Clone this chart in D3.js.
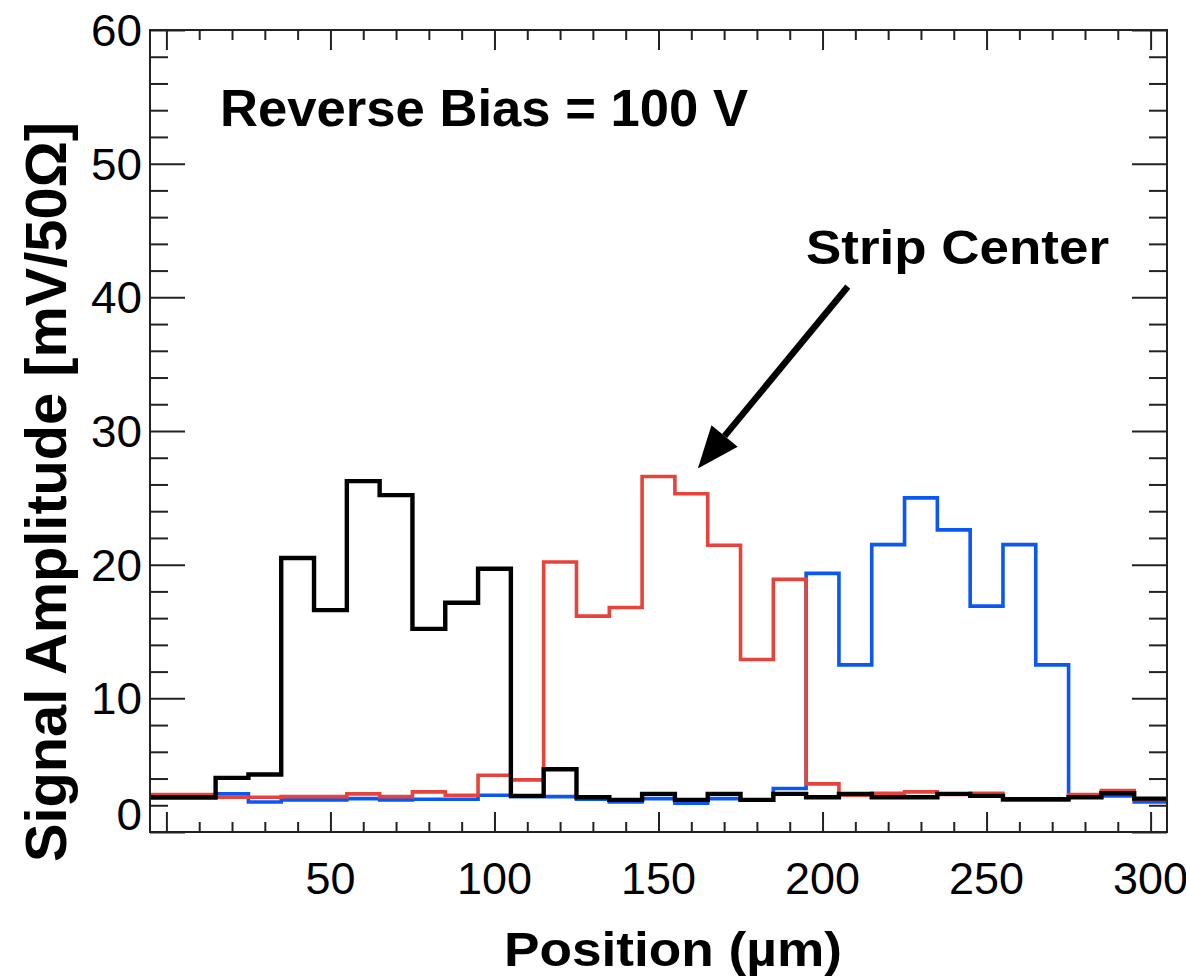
<!DOCTYPE html>
<html lang="en">
<head>
<meta charset="UTF-8">
<title>Signal Amplitude vs Position</title>
<script src="https://d3js.org/d3.v7.min.js"></script>
<style>
  body {
    margin: 0;
    background-color: #ffffff;
    font-family: "Liberation Sans", Arial, sans-serif;
  }
  .frame { fill: none; stroke: #222; stroke-width: 2; }
  .tick line { stroke: #222; stroke-width: 2; }
  .hist { fill: none; stroke-linejoin: miter; }
  .ticklabel { font-size: 44px; fill: #000; }
  .bold { font-weight: bold; fill: #000; }
</style>
</head>
<body>
<svg id="chart"></svg>

<script>
// bin centres (um), 10 um wide bins
var positions = [0, 10, 20, 30, 40, 50, 60, 70, 80, 90, 100, 110, 120, 130, 140, 150,
                 160, 170, 180, 190, 200, 210, 220, 230, 240, 250, 260, 270, 280, 290, 300];

// signal amplitude (mV/50 Ohm) per bin, one array per strip
var blueStrip  = [2.55, 2.55, 2.85, 2.25, 2.4, 2.4, 2.5, 2.4, 2.45, 2.45, 2.75, 2.65, 2.65, 2.45, 2.25, 2.5,
                  2.15, 2.5, 2.4, 3.25, 19.35, 12.5, 21.5, 25.0, 22.6, 16.9, 21.5, 12.5, 2.6, 2.7, 2.25];
var redStrip   = [2.8, 2.8, 2.6, 2.6, 2.65, 2.65, 2.85, 2.65, 3.0, 2.75, 4.25, 3.9, 20.2, 16.15, 16.8, 26.6,
                  25.3, 21.45, 12.9, 18.9, 3.6, 2.75, 2.9, 3.0, 2.8, 2.9, 2.4, 2.4, 2.8, 3.1, 2.45];
var blackStrip = [2.6, 2.6, 4.05, 4.3, 20.5, 16.6, 26.25, 25.2, 15.2, 17.15, 19.7, 2.7, 4.7, 2.6, 2.4, 2.85,
                  2.4, 2.85, 2.4, 2.85, 2.6, 2.85, 2.6, 2.6, 2.85, 2.7, 2.45, 2.45, 2.6, 2.9, 2.5];

// axis ticks
var xMajor = [0, 50, 100, 150, 200, 250, 300];
var xLabels = [50, 100, 150, 200, 250, 300];
var yMajor = [0, 10, 20, 30, 40, 50, 60];

// arrow pointing at the strip centre, in data units [from, to]
var arrowFrom = [207.7, 40.8];
var arrowTo = [162, 27.2];

var binWidth = 10;
var width = 1186, height = 980;

var svg = d3.select("#chart")
  .attr("width", width)
  .attr("height", height);

var x = d3.scaleLinear().domain([-5, 305]).range([150, 1167]);
var y = d3.scaleLinear().domain([0, 60]).range([832, 30]);

var xMinor = d3.range(0, 301, 10).filter(d => d % 50 !== 0);
var yMinor = d3.range(0, 61, 2).filter(d => d % 10 !== 0);

// ticks on all four sides, pointing inwards
function ticks(axis, vals, size, transform) {
  svg.append("g")
    .attr("transform", transform)
    .call(axis.tickValues(vals).tickSize(size).tickFormat(""))
    .call(g => g.select(".domain").remove());
}
ticks(d3.axisBottom(x), xMajor, -20, "translate(0,832)");
ticks(d3.axisBottom(x), xMinor, -10, "translate(0,832)");
ticks(d3.axisTop(x), xMajor, -20, "translate(0,30)");
ticks(d3.axisTop(x), xMinor, -10, "translate(0,30)");
ticks(d3.axisLeft(y), yMajor, -35, "translate(150,0)");
ticks(d3.axisLeft(y), yMinor, -18, "translate(150,0)");
ticks(d3.axisRight(y), yMajor, -35, "translate(1167,0)");
ticks(d3.axisRight(y), yMinor, -18, "translate(1167,0)");

// histograms as step lines
var step = d3.line()
  .x(d => x(d[0]))
  .y(d => y(d[1]))
  .curve(d3.curveStepAfter);

function histPoints(vals) {
  var pts = positions.map((p, i) => [p - binWidth / 2, vals[i]]);
  pts.push([positions[positions.length - 1] + binWidth / 2, vals[vals.length - 1]]);
  return pts;
}

var series = [
  { vals: blueStrip, color: "#0b57f5", w: 3.6 },
  { vals: redStrip, color: "#e8433a", w: 3.6 },
  { vals: blackStrip, color: "#000000", w: 4.4 }
];

svg.selectAll("path.hist")
  .data(series)
  .enter()
  .append("path")
  .attr("class", "hist")
  .attr("stroke", d => d.color)
  .attr("stroke-width", d => d.w)
  .attr("d", d => step(histPoints(d.vals)));

// frame
svg.append("rect")
  .attr("class", "frame")
  .attr("x", 150).attr("y", 30)
  .attr("width", 1017).attr("height", 802);

// tick labels (text in the picture is slightly wide, so use textLength)
svg.selectAll("text.xl")
  .data(xLabels)
  .enter()
  .append("text")
  .attr("class", "ticklabel")
  .attr("x", d => x(d))
  .attr("y", 894)
  .attr("text-anchor", "middle")
  .attr("textLength", d => String(d).length * 25)
  .attr("lengthAdjust", "spacingAndGlyphs")
  .text(d => d);

svg.selectAll("text.yl")
  .data(yMajor)
  .enter()
  .append("text")
  .attr("class", "ticklabel")
  .attr("x", 142)
  .attr("y", d => d === 0 ? y(d) - 2 : y(d) + 16)
  .attr("text-anchor", "end")
  .attr("textLength", d => String(d).length * 25.5)
  .attr("lengthAdjust", "spacingAndGlyphs")
  .text(d => d);

// axis titles
svg.append("text")
  .attr("class", "bold")
  .attr("x", 504).attr("y", 966)
  .attr("font-size", 48)
  .attr("textLength", 338)
  .attr("lengthAdjust", "spacingAndGlyphs")
  .text("Position (\u00b5m)");

svg.append("text")
  .attr("class", "bold")
  .attr("transform", "translate(66,492) rotate(-90)")
  .attr("text-anchor", "middle")
  .attr("font-size", 57)
  .attr("textLength", 740)
  .attr("lengthAdjust", "spacingAndGlyphs")
  .text("Signal Amplitude [mV/50\u03a9]");

// annotations
svg.append("text")
  .attr("class", "bold")
  .attr("x", 220).attr("y", 126)
  .attr("font-size", 52)
  .attr("textLength", 528)
  .attr("lengthAdjust", "spacingAndGlyphs")
  .text("Reverse Bias = 100 V");

svg.append("text")
  .attr("class", "bold")
  .attr("x", 806).attr("y", 264)
  .attr("font-size", 49)
  .attr("textLength", 303)
  .attr("lengthAdjust", "spacingAndGlyphs")
  .text("Strip Center");

// arrow
var ax0 = x(arrowFrom[0]), ay0 = y(arrowFrom[1]);
var ax1 = x(arrowTo[0]), ay1 = y(arrowTo[1]);
var ang = Math.atan2(ay1 - ay0, ax1 - ax0);
var headLen = 42, headHalf = 17;
var bx = ax1 - headLen * Math.cos(ang), by = ay1 - headLen * Math.sin(ang);

svg.append("line")
  .attr("x1", ax0).attr("y1", ay0)
  .attr("x2", bx).attr("y2", by)
  .attr("stroke", "#000")
  .attr("stroke-width", 6.5);

svg.append("polygon")
  .attr("fill", "#000")
  .attr("points", [
    [ax1, ay1],
    [bx + headHalf * Math.sin(ang), by - headHalf * Math.cos(ang)],
    [bx - headHalf * Math.sin(ang), by + headHalf * Math.cos(ang)]
  ].map(p => p.join(",")).join(" "));
</script>
</body>
</html>
